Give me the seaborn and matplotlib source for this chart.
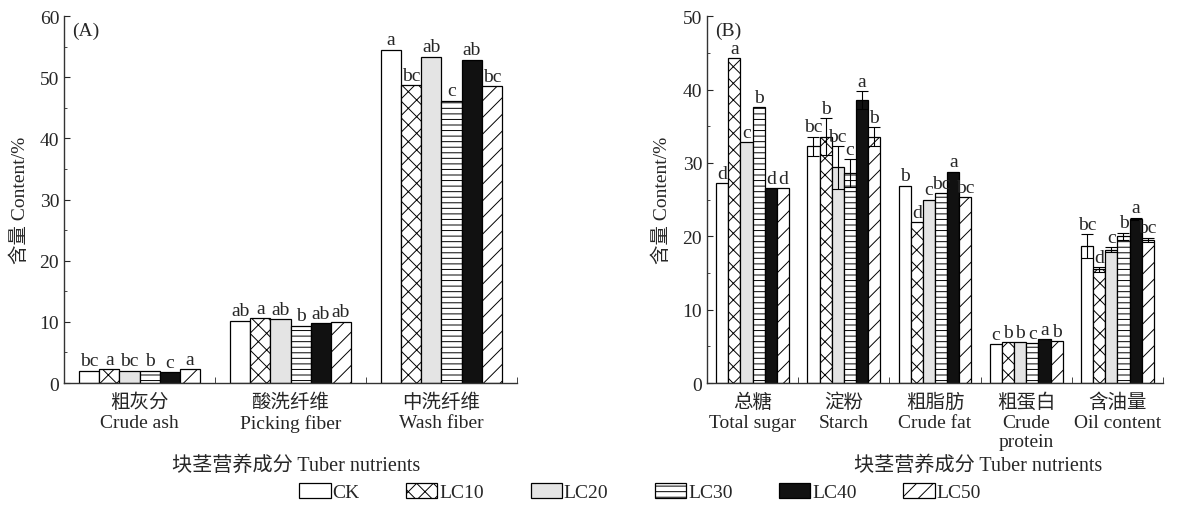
import numpy as np
import pandas as pd
import matplotlib
matplotlib.use("Agg")
import matplotlib.pyplot as plt
from matplotlib.patches import Patch
from matplotlib.ticker import MultipleLocator, FixedLocator
import seaborn as sns

treatments = ["CK", "LC10", "LC20", "LC30", "LC40", "LC50"]

# Panel A: tuber nutrients, one list per nutrient (CK..LC50)
groups_a = ["粗灰分\nCrude ash", "酸洗纤维\nPicking fiber", "中洗纤维\nWash fiber"]
crude_ash = [2.0, 2.3, 2.0, 2.0, 1.8, 2.3]
picking_fiber = [10.2, 10.6, 10.4, 9.4, 9.8, 10.05]
wash_fiber = [54.5, 48.7, 53.4, 46.2, 52.9, 48.6]
letters_ash = ["bc", "a", "bc", "b", "c", "a"]
letters_picking = ["ab", "a", "ab", "b", "ab", "ab"]
letters_wash = ["a", "bc", "ab", "c", "ab", "bc"]

# Panel B
groups_b = ["总糖\nTotal sugar", "淀粉\nStarch", "粗脂肪\nCrude fat",
            "粗蛋白\nCrude\nprotein", "含油量\nOil content"]
total_sugar = [27.2, 44.3, 32.8, 37.6, 26.6, 26.6]
starch = [32.3, 33.6, 29.4, 28.6, 38.6, 33.6]
crude_fat = [26.9, 21.9, 25.0, 25.9, 28.8, 25.3]
crude_protein = [5.3, 5.6, 5.6, 5.4, 6.0, 5.7]
oil_content = [18.7, 15.5, 18.2, 20.0, 22.4, 19.5]
starch_err = [1.3, 2.5, 2.9, 1.9, 1.2, 1.3]
oil_err = [1.6, 0.3, 0.3, 0.5, 0.15, 0.3]
letters_sugar = ["d", "a", "c", "b", "d", "d"]
letters_starch = ["bc", "b", "bc", "c", "a", "b"]
letters_fat = ["b", "d", "c", "bc", "a", "bc"]
letters_protein = ["c", "b", "b", "c", "a", "b"]
letters_oil = ["bc", "d", "c", "b", "a", "bc"]

face = {"CK": "white", "LC10": "white", "LC20": "#e4e4e4",
        "LC30": "white", "LC40": "#111111", "LC50": "white"}
hatch = {"CK": "", "LC10": "xx", "LC20": "", "LC30": "---", "LC40": "", "LC50": "//"}

FS = 14

sns.set_style("ticks")
plt.rcParams["font.family"] = ["Liberation Serif", "Noto Sans CJK SC"]
plt.rcParams["hatch.linewidth"] = 0.7


def draw_panel(ax, groups, values, errors, letters, ymax, tag):
    n = len(groups)
    df = pd.DataFrame({
        "nutrient": np.repeat(groups, len(treatments)),
        "treatment": treatments * n,
        "value": np.concatenate(values),
    })
    sns.barplot(data=df, x="nutrient", y="value", hue="treatment",
                order=groups, hue_order=treatments, palette=face,
                saturation=1, width=0.8, errorbar=None, legend=False,
                edgecolor="black", linewidth=0.9, ax=ax)
    for k, (t, cont) in enumerate(zip(treatments, ax.containers)):
        for j, bar in enumerate(cont):
            bar.set_hatch(hatch[t])
            bar.set_edgecolor("black")
            x = bar.get_x() + bar.get_width() / 2
            h = bar.get_height()
            err = errors[j][k]
            top = h
            if err > 0:
                ax.errorbar(x, h, yerr=err, fmt="none", ecolor="black",
                            elinewidth=0.8, capsize=4, capthick=0.8)
                top = h + err
            ax.annotate(letters[j][k], (x, top), xytext=(0, 1),
                        textcoords="offset points", ha="center", va="bottom",
                        fontsize=FS)
    ax.set_xlim(-0.5, n - 0.5)
    ax.set_ylim(0, ymax)
    ax.yaxis.set_major_locator(MultipleLocator(10))
    ax.yaxis.set_minor_locator(MultipleLocator(5))
    ax.tick_params(axis="y", which="major", direction="in", length=4, labelsize=FS)
    ax.tick_params(axis="y", which="minor", direction="in", length=2.5)
    ax.xaxis.set_minor_locator(FixedLocator(np.arange(0.5, n, 1)))
    ax.tick_params(axis="x", which="major", length=0, pad=7, labelsize=FS)
    ax.tick_params(axis="x", which="minor", direction="in", length=4)
    ax.set_ylabel("含量 Content/%", fontsize=FS)
    ax.set_xlabel("")
    ax.text(0.018, 0.985, tag, transform=ax.transAxes, ha="left", va="top", fontsize=FS)
    sns.despine(ax=ax)
    for s in ax.spines.values():
        s.set_linewidth(1.0)
        s.set_color("#333333")


fig = plt.figure(figsize=(11.79, 5.06), dpi=100)
ax_a = fig.add_axes([0.0543, 0.241, 0.3842, 0.725])
ax_b = fig.add_axes([0.5997, 0.241, 0.3867, 0.725])

zero = [0] * 6
draw_panel(ax_a, groups_a, [crude_ash, picking_fiber, wash_fiber],
           [zero, zero, zero], [letters_ash, letters_picking, letters_wash], 60, "(A)")
draw_panel(ax_b, groups_b, [total_sugar, starch, crude_fat, crude_protein, oil_content],
           [zero, starch_err, zero, zero, oil_err],
           [letters_sugar, letters_starch, letters_fat, letters_protein, letters_oil], 50, "(B)")

ax_a.yaxis.set_label_coords(-0.078, 0.5)
ax_b.yaxis.set_label_coords(-0.080, 0.5)

fig.text(0.251, 0.079, "块茎营养成分 Tuber nutrients", ha="center", va="center", fontsize=FS + 0.5)
fig.text(0.830, 0.079, "块茎营养成分 Tuber nutrients", ha="center", va="center", fontsize=FS + 0.5)

handles = [Patch(facecolor=face[t], hatch=hatch[t], edgecolor="black", linewidth=0.9)
           for t in treatments]
fig.legend(handles, treatments, loc="center", bbox_to_anchor=(0.543, 0.026), ncol=6,
           frameon=False, fontsize=FS, handlelength=1.6, handleheight=0.8,
           handletextpad=0.1, columnspacing=2.4)

fig.savefig("out.png", dpi=100)
